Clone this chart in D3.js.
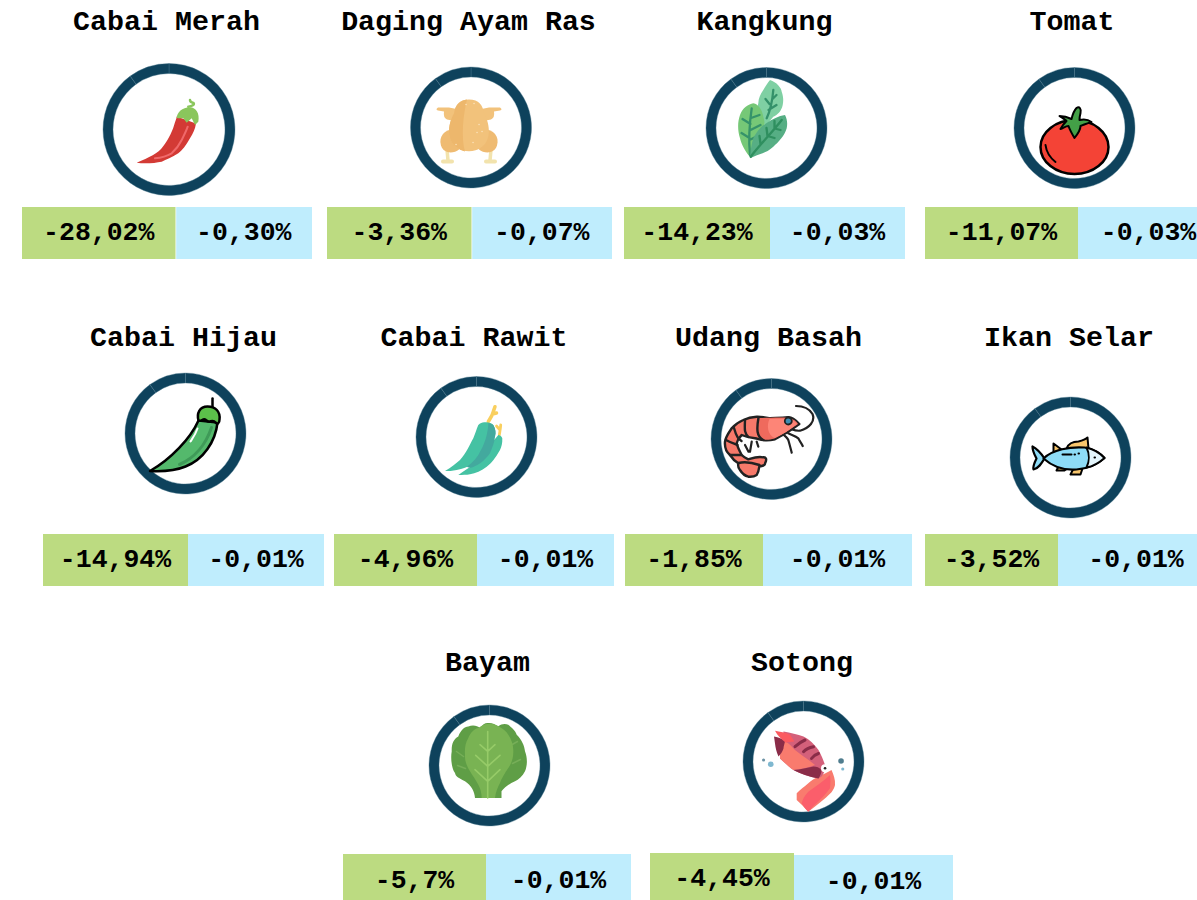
<!DOCTYPE html>
<html>
<head>
<meta charset="utf-8">
<script src="https://cdn.jsdelivr.net/npm/d3@7"></script>
<style>
    html, body { margin: 0; padding: 0; background: #fff; overflow: hidden; }
    svg { display: block; }
</style>
</head>
<body>
<div id="chart-area"></div>
<script>
/*
 *    main.js
 */

const names = ["Cabai Merah", "Daging Ayam Ras", "Kangkung", "Tomat", "Cabai Hijau", "Cabai Rawit", "Udang Basah", "Ikan Selar", "Bayam", "Sotong"];
const priceChange = [-28.02, -3.36, -14.23, -11.07, -14.94, -4.96, -1.85, -3.52, -5.7, -4.45];
const inflationShare = [-0.30, -0.07, -0.03, -0.03, -0.01, -0.01, -0.01, -0.01, -0.01, -0.01];
const ringShares = [90, 10];
const iconKeys = ["redChili", "chicken", "spinachLeaf", "tomato", "greenChili", "rawit", "shrimp", "fish", "bayam", "squid"];

// card placement, separate from the values
// bx: green left, split, blue right (two bars run past the page edge)
const layout = [
    { cx: 169, cy: 129.5, r: 66, tx: 166.5, ty: 30, bx: [22, 175.5, 312], gap: 0.7, by: [207, 259], blueTop: 207, bt: [240, 240] },
    { cx: 471, cy: 127.5, r: 60.5, tx: 468.5, ty: 30, bx: [327, 471.5, 612], gap: 0.7, by: [207, 259], blueTop: 207, bt: [240, 240] },
    { cx: 766.5, cy: 128, r: 60.5, tx: 764.5, ty: 30, bx: [624, 770, 905], gap: 0, by: [207, 259], blueTop: 207, bt: [240, 240] },
    { cx: 1074.5, cy: 128, r: 60.5, tx: 1072, ty: 30, bx: [925, 1078, 1219], gap: 0, by: [207, 259], blueTop: 207, bt: [240, 240] },
    { cx: 185.5, cy: 433.5, r: 60.5, tx: 183.5, ty: 346, bx: [43, 188, 324], gap: 0, by: [534, 586], blueTop: 534, bt: [567, 567] },
    { cx: 476.5, cy: 437, r: 60.5, tx: 474, ty: 346, bx: [334, 477, 614], gap: 0, by: [534, 586], blueTop: 534, bt: [567, 567] },
    { cx: 771.5, cy: 439, r: 60.5, tx: 768.5, ty: 346, bx: [625, 763, 912], gap: 0, by: [534, 586], blueTop: 534, bt: [567, 567] },
    { cx: 1070.5, cy: 457.5, r: 60.5, tx: 1069, ty: 346, bx: [925, 1058, 1214], gap: 0, by: [534, 586], blueTop: 534, bt: [567, 567] },
    { cx: 489.5, cy: 765.5, r: 60.5, tx: 487.5, ty: 671, bx: [343, 486, 631], gap: 0, by: [854, 905], blueTop: 854, bt: [888, 888] },
    { cx: 803.5, cy: 761.5, r: 60.5, tx: 802, ty: 671, bx: [650, 794, 953], gap: 0, by: [853, 905], blueTop: 855, bt: [886, 889] }
];

// icon parts, relative to the ring centre: [path, fill, stroke, stroke width]
const icons = {
    redChili: [
        ["M-32.3,33.2 C-20,28 -10.7,23.8 -6,17 C-2,12 2.7,3.8 5,-4 C6,-8 7.7,-11 7.7,-13 L27,-6 C26,0 24,4 21,8.8 C17,16 13,21 9.3,23.8 C3,28 -3,30 -7.3,32.2 C-14,33.5 -24,34.5 -32.3,33.2Z", "#d33a35"],
        ["M-14,28.8 C-6,28 -1,26 2.7,23.8 C8,19 11,14 12.7,10.5 C15,6 17,2 18.7,-2.8", "none", "#f0696a", 2],
        ["M19.3,-22.8 C23,-23 26,-25 24.5,-26.5 C22,-27 21,-28 21,-29.5", "none", "#8ac65c", 2.5],
        ["M7.7,-11.5 C8,-17 13,-22 21,-22.2 C27,-22 31,-16 29.3,-7.8 L26,-4.5 L22.7,-11.2 L17.7,-6.8 L14.3,-11.2 L9.3,-11.2Z", "#8ac65c"]
    ],
    chicken: [
        ["M-28,34 h9 M15,34 h9", "none", "#f2e3ad", 4],
        ["M-24,22 L-23,33 M20,22 L19,33", "none", "#f2e3ad", 3.5],
        ["M-22,-20 L-33,-20 Q-36,-18 -33,-17 L-27,-16 Q-28,-10 -24,-8 L-14,-6 L-12,-18Z", "#f2c27b"],
        ["M18,-20 L29,-20 Q32,-18 29,-17 L23,-16 Q24,-10 20,-8 L10,-6 L8,-18Z", "#f2c27b"],
        ["M-13,2 C-25,0 -33,8 -30,18 C-27,27 -17,26 -12,22Z", "#efbb72"],
        ["M9,2 C21,0 29,8 26,18 C23,27 13,26 8,22Z", "#efbb72"],
        ["M-2,-28 C-12,-28 -16,-22 -17,-14 C-24,-2 -24,14 -14,20 C-8,25 4,25 10,20 C20,14 20,-2 13,-14 C12,-22 8,-28 -2,-28Z", "#f2c27b"],
        ["M-8,-27 C-14,-24 -16,-20 -17,-14 C-24,-2 -24,14 -14,20 C-12,22 -9,23 -6,24 C-10,10 -8,-12 -4,-28Z", "#edb76c"],
        ["M-5,-23 h.1 M3,-24 h.1 M8,-3 h.1 M11,4 h.1 M6,5 h.1 M-15,17 h.1 M2,15 h.1", "none", "#fbe6c2", 1.3]
    ],
    spinachLeaf: [
        ["M3.5,-48 C10,-46 15,-40 15.2,-36.3 C17,-31 17,-27 16.2,-23 C15,-17 11,-13 6.8,-11.3 L-1,-2 C-7,-13 -10,-19 -8.2,-24.7 C-8,-30 -6,-34 -3.2,-38 C-1,-42 1,-45 3.5,-48Z", "#7fd0a3"],
        ["M6.8,-38 C6,-28 4,-18 .2,-9.7 M6,-29 L10,-33 M3,-24 L-1,-29 M2,-18 L10,-23", "none", "#34916a", 2.3],
        ["M-13.2,-24.7 C-8,-24 -4,-17 -3.2,-11.3 C-1,-4 -2,0 -3.2,3.7 C-6,14 -11,24 -15.8,29.7 C-21,24 -25,17 -26.5,10.3 C-29,2 -29,-6 -26.5,-13 C-24,-20 -18,-24 -13.2,-24.7Z", "#76c877"],
        ["M-14.8,-19.7 C-17,-5 -18,12 -16.5,27 M-15.5,-10 L-7,-13 M-16,-4 L-24,-9 M-16,2 L-6,-3 M-17,10 L-25,5 M-17,12 L-9,8", "none", "#35936a", 2.3],
        ["M18.5,-13 C21,-8 21,-4 20.2,.3 C18,8 12,14 6.8,18.7 C-1,26 -9,26 -16.5,30.3 C-16,23 -15,16 -13.2,10.3 C-9,2 -5,-2 -.2,-4.7 C6,-9 12,-12 18.5,-13Z", "#56ae84"],
        ["M15.2,-8 C6,4 -6,16 -15.8,28.7 M8,.5 L8,-7 M8,.5 L14,2 M1,8 L0,0 M1,8 L8,10 M-6,16 L-7,8", "none", "#2f8f5f", 2.3]
    ],
    tomato: [
        ["M-34,19 A34,27 0 1,1 34,19 A34,27 0 1,1 -34,19Z", "#f44336", "#000", 2.5],
        ["M-29,17 C-28,25 -24,30 -19,34", "none", "#000", 2],
        ["M2,-20 C5,-22 7,-19 6,-15 C5,-11 5,-10 5,-8 C9,-9 13,-9 17,-6 C11,-4 8,-3 6,-2 C6,2 4,5 0,10 C-3,5 -5,1 -6,-2 C-9,-2 -11,0 -14,1 C-12,-3 -10,-5 -8,-7 C-10,-9 -12,-10 -15,-12 C-10,-12 -7,-11 -3,-9 C-2,-13 -1,-17 2,-20Z", "#43a047", "#000", 2]
    ],
    greenChili: [
        ["M-35.5,37.5 C-15,26 5,5 13,-13 L32,-11 C30,8 18,26 0,33 C-12,38 -25,38 -35.5,37.5Z", "#54b96c", "#000", 2.5],
        ["M-6,31 C8,25 20,12 26,-6", "none", "#3f9a58", 3],
        ["M12,-5 C10,1 7,5 5,8", "none", "#fff", 2],
        ["M27,-27 L27,-35", "none", "#000", 2.5],
        ["M13,-13 C11,-20 14,-27 22,-27 C30,-27 35,-22 34,-14 C34,-10 32,-9 30,-11 C27,-15 24,-10 21,-13 C18,-17 16,-11 13,-13Z", "#5cc04a", "#000", 2.5]
    ],
    rawit: [
        ["M11.8,-15.3 C14,-19 16,-22 16.2,-23.7 L18.5,-30.3 M16,-23 L20,-24", "none", "#f9cf5e", 3.5],
        ["M22.8,-2 C23.5,-6 24,-9 24.2,-12 M23.5,-7 L20,-11", "none", "#f9cf5e", 2.8],
        ["M-18.2,38 C-10,32 -6,30 -3.2,28 L21.8,-2 C23,-2 25,-1 25.8,1.3 C26,6 25,10 23.5,13 C19,21 15,26 10.2,29.7 C5,34 -1,36 -6.5,37.3 C-10,38 -14,38 -18.2,38Z", "#45c2a3"],
        ["M-31.5,34 C-25,30 -21,27 -16.5,23 C-10,16 -7,8 -3.2,1.3 C-1,-4 0,-8 1.8,-12 C4,-14 6,-15 8.5,-14.7 C12,-15 15,-14 16.8,-12 C19,-8 19,-5 18.5,-2 C16,8 8,20 -3.2,27 C-9,30 -14,32 -19.8,33 C-24,34 -28,34 -31.5,34Z", "#45c2a3"],
        ["M11.8,-13.7 C14,-13.5 16,-12.5 16.8,-12 C19,-8 20,-4 18.5,-.3 C18,5 16,10 13.5,16.3 C8,24 2,28 -3.2,30 C-5,31 -8,31 -9.8,29.7 C-3,25 1,20 3.5,14.7 C7,9 9,3 10.2,-2 C11,-6 12,-10 11.8,-13.7Z", "#43a99e"]
    ],
    shrimp: [
        ["M24.5,-33 C32,-33 38,-30 41,-25 C44,-18 38,-11 28.5,-8.3 C25,-8 22,-9 20,-9.7 M10.2,-5.7 C14,-3 16,-1 16.8,1 C18,5 19,9 20.2,13.7 M16.8,-5.7 C20,-4 24,-3 26.8,-.7 C28,2 30,4 31.2,7 M-19.8,2.7 L-21.5,12.7 M-14.8,2.7 L-13.2,7.7 M-26.5,6 L-23,12.7", "none", "#222", 2.2],
        ["M27.8,-15 C24,-19 20,-22 16.8,-21.7 C10,-21 4,-21 -1.5,-20.7 C-6,-21.5 -10,-22.5 -14.8,-22.3 C-20,-22 -24,-21 -28.2,-19 C-33,-17 -37,-14 -39.8,-10.7 C-43,-6 -46,-2 -46.5,2.7 C-47,8 -45,13 -41.5,16 C-39,20 -36,22.5 -33.2,24.3 C-34,28 -33,29 -31.5,31 C-29,35 -26,37 -23.2,37.7 C-20,38 -17,37.5 -14.8,36 C-13,33 -12.5,30 -12.2,27.7 C-9,27 -6,26 -6.5,24.3 C-4,20 -6,18 -8.2,18.3 C-14,17 -19,19 -23.2,20.3 C-26,19 -28,18 -29.8,16 C-32,12 -34,8 -34.8,4.3 C-34,1 -32,-2 -29.8,-4 C-25,-2 -21,-1 -16.5,-.7 C-13,0 -11,1 -8.2,1 C-4,1.5 0,1 3.5,.3 C12,-4 20,-9 27.8,-15Z", "#f7796a", "#222", 2.4],
        ["M-13,-21 C-4,-21 10,-22 16.8,-21 C22,-20 25,-18 26.5,-15 C18,-9 10,-4 3,-.5 C-2,1 -5,1 -8,.5 C-15,-2 -15,-10 -13,-21Z", "#ef6a5d"],
        ["M-2,-20 C6,-20 12,-20.5 17,-20 C22,-19 24,-17 25.5,-15 C18,-9 10,-4 3,-1 C-4,-4 -5,-14 -2,-20Z", "#fd8577"],
        ["M-13,-21.5 C-15,-10 -15,-2 -8,1 M-26.5,-19 C-27,-8 -27,-6 -23,-2 M-37.5,-11 C-35,-2 -33,0 -30,2 M-45.5,1 C-40,4 -36,5 -34,6 M-41.5,16 L-30,16 M-33,24 C-25,22 -18,24 -12,26", "none", "#222", 2.4],
        ["M13.3,-18 a3.5,3.5 0 1,1 7,0 a3.5,3.5 0 1,1 -7,0Z", "#3f8db3", "#222", 1.8]
    ],
    fish: [
        ["M-4,-9 C-2,-14 2,-16 8,-16 C12,-17 15,-18 17,-20 L18,-9Z", "#f8c66d", "#000", 2],
        ["M-17,-5 L-17,-14 L-9,-8Z M-12,9 L-14,13 L-6,13 L-3,11Z M3,11 L0,17 L10,17 L12,11Z", "#f8c66d", "#000", 2],
        ["M-26,1 C-30,-5 -34,-9 -38,-11 C-38,-6 -36,-3 -34,1 C-36,5 -38,9 -37,12 C-32,11 -29,6 -26,1Z", "#8edcf7", "#000", 2.2],
        ["M-27,1 C-18,-8 0,-11 14,-10 C22,-9 30,-4 34,.5 C28,6 20,11 6,12 C-6,13 -18,9 -27,1Z", "#8edcf7", "#000", 2.2],
        ["M16,-10 C24,-8 30,-4 34,.5 C29,5 22,9 16,10 C19,4 19,-4 16,-10Z", "#e4f6fd", "#000", 2],
        ["M-8,-3 L1,-3 M4,-3 h.5 M8,-4 h.5 M24,0 h.5", "none", "#000", 2]
    ],
    bayam: [
        ["M-14.5,32.5 C-15,26 -18,20 -24.5,15.8 C-30,13 -34,11 -34.5,7.5 C-38,3 -39,-8 -37.8,-14 C-38,-22 -36,-26 -31.2,-29 C-29,-35 -25,-39 -21.2,-39 C-17,-41 -12,-40 -9.5,-37.5 C-7,-41 -4,-43 -1.2,-42.5 C2,-43 6,-41 8.8,-39.2 C12,-42 16,-42 18.8,-40.8 C22,-38 26,-35 27.2,-30.8 C32,-26 35,-20 35.5,-14.2 C38,-8 38,0 35.5,5.8 C33,11 29,14 25.5,15.8 C20,18 15,22 12,25.8 L12,32.5Z", "#5f9e46"],
        ["M-33,-14 L-26,-9 M-32,0 L-24,3 M28,-24 L21,-20 M31,-6 L23,-2", "none", "#76ae58", 1.5],
        ["M-7.8,32.5 C-8,27 -9,23 -11.2,19.2 C-14,14 -17,10 -19.5,5.8 C-23,0 -25,-5 -24.5,-10.8 C-25,-17 -24,-23 -21.2,-27.5 C-19,-33 -15,-37 -11.2,-37.5 C-8,-40 -4,-42 -1.2,-41.5 C3,-42 6,-41 8.8,-39.2 C13,-37 17,-34 18.8,-30.8 C22,-26 24,-20 23.8,-14.2 C24,-8 22,-2 18.8,2.5 C15,8 12,13 10.5,17.5 C8,22 6,27 5.5,32.5Z", "#79b353"],
        ["M-1.8,-34 L-1.8,32.5 M-1.8,-14.2 L-9.5,-20.8 M-1.8,-14.2 L5.5,-20.8 M-1.8,.8 L-13.8,-10.2 M-1.8,.8 L10.5,-10.2 M-1.8,15.8 L-14.5,4.2 M-1.8,15.8 L10.5,4.2", "none", "#96cb68", 1.6]
    ],
    squid: [
        ["M-40,-1.5 h.1", "none", "#6d93a5", 3],
        ["M-32.8,2.8 h.1", "none", "#7fb8d0", 5.5],
        ["M37.5,-.5 h.1", "none", "#4f7d8e", 5.5],
        ["M39.2,7.5 h.1", "none", "#7fb8d0", 3],
        ["M15,15 C19,13 24,11 28,8.5 C30,13 32,18 31.5,23.5 C31,26 30,28 28,30.8 C21,38 13,44 4.8,50.2 C1,46 -3,42 -6.8,38.5 L-6.8,31.8 C-3,28 1,25 4.8,21.8 C8,19 11,17 15,15Z", "#f97b6e"],
        ["M26.5,13.5 C20,20 12,25 4.8,30.2 C1,34 -1,38 -1.8,41.8 C0,45 2,48 4.8,50.2 C8,47 10,44 13,41.8 C18,37 23,32 26.5,26.8 C27,22 27,18 26.5,13.5Z", "#fb5e6b"],
        ["M-20,-30 C-13,-29 -6,-27 0,-25 C6,-22 11,-17 15,-11.5 C18,-6 20,-1 21.5,3.5 C22,7 21,12 18,15 L15,17 C10,16 6,15 1.5,13.5 C-3,12 -7,10 -10,8.5 C-14,6 -19,1 -23.5,-3Z", "#d4607a"],
        ["M-18.5,-20 C-14,-18 -11,-14 -8.5,-11.5 C-3,-7 5,-2 11.5,3.5 C5,6 -3,8 -10,8.5 C-14,6 -19,1 -23.5,-3 C-24,-9 -22,-15 -18.5,-20Z", "#f97b6e"],
        ["M-29.5,-25 C-25,-24 -21,-23 -18.5,-20.5 C-19,-17 -20,-15 -20,-13 C-21,-10 -23,-7 -25,-5 C-27,-9 -28,-14 -28.5,-18Z", "#8a2c48"],
        ["M-10,8.5 C-3,8 4,6 10,5 C13,5 16,6 18,8.5 C18,11 17,14 15,17 C10,16 6,15 1.5,13.5 C-3,12 -7,10 -10,8.5Z", "#8a2c48"],
        ["M-28.5,-30.8 C-24,-30 -18,-29 -13.3,-26.7 C-12,-24 -10,-22 -9.3,-20 L-18,-19 C-22,-22 -26,-26 -28.5,-30.8Z", "#fb5a60"],
        ["M-8.5,-14.8 C-5,-18 -2,-20 1.5,-21.5 M0,-9.8 C3,-13 6,-14 10,-14.8 M8,-3 C10,-6 12,-7 15,-8", "none", "#8a2c48", 3],
        ["M17.5,6.8 a4,4 0 1,1 8,0 a4,4 0 1,1 -8,0Z", "#fff"],
        ["M21.5,6.8 h.1", "none", "#222", 2.5]
    ]
};

const ringColour = "#0e425c";
const seamColour = "#4d7a8e";
const greenFill = "#bcdb81";
const blueFill = "#bfedfd";
const font = "'Liberation Mono', 'Courier New', monospace";

const fmtChange = (v) => String(v).replace(".", ",") + "%";
const fmtShare = (v) => v.toFixed(2).replace(".", ",") + "%";

const svg = d3.select("#chart-area")
    .append("svg")
    .attr("width", 1197)
    .attr("height", 900);

const pie = d3.pie().sort(null);
const ringSlices = pie(ringShares);

const cards = svg.selectAll("g.card")
    .data(names.map((d, i) => ({
        name: d,
        change: priceChange[i],
        share: inflationShare[i],
        icon: icons[iconKeys[i]],
        pos: layout[i]
    })))
    .enter()
    .append("g")
    .attr("class", "card");

/** Titles */
cards.append("text")
    .attr("x", (d) => d.pos.tx)
    .attr("y", (d) => d.pos.ty)
    .attr("text-anchor", "middle")
    .attr("font-family", font)
    .attr("font-weight", "bold")
    .attr("font-size", "28.3px")
    .style("fill", "black")
    .text((d) => d.name);

/** Rings */
const rings = cards.append("g")
    .attr("transform", (d) => "translate(" + d.pos.cx + ", " + d.pos.cy + ")");

rings.selectAll("path.slice")
    .data((d) => ringSlices.map((s) => ({ slice: s, r: d.pos.r })))
    .enter()
    .append("path")
    .attr("class", "slice")
    .attr("d", (d) => d3.arc().innerRadius(d.r - 10).outerRadius(d.r)(d.slice))
    .attr("fill", ringColour)
    .attr("stroke", seamColour)
    .attr("stroke-width", 0.4);

/** Icons */
rings.selectAll("path.icon")
    .data((d) => d.icon)
    .enter()
    .append("path")
    .attr("class", "icon")
    .attr("d", (d) => d[0])
    .attr("fill", (d) => d[1])
    .attr("stroke", (d) => d[2] || "none")
    .attr("stroke-width", (d) => d[3] || 0)
    .attr("stroke-linecap", "round")
    .attr("stroke-linejoin", "round");

/** Value bars */
cards.append("rect")
    .attr("x", (d) => d.pos.bx[0])
    .attr("y", (d) => d.pos.by[0])
    .attr("width", (d) => d.pos.bx[1] - d.pos.bx[0])
    .attr("height", (d) => d.pos.by[1] - d.pos.by[0])
    .attr("fill", greenFill);

cards.append("rect")
    .attr("x", (d) => d.pos.bx[1] + d.pos.gap)
    .attr("y", (d) => d.pos.blueTop)
    .attr("width", (d) => d.pos.bx[2] - d.pos.bx[1] - d.pos.gap)
    .attr("height", (d) => d.pos.by[1] - d.pos.blueTop)
    .attr("fill", blueFill);

cards.append("text")
    .attr("x", (d) => (d.pos.bx[0] + d.pos.bx[1]) / 2)
    .attr("y", (d) => d.pos.bt[0])
    .attr("text-anchor", "middle")
    .attr("font-family", font)
    .attr("font-weight", "bold")
    .attr("font-size", "26.5px")
    .style("fill", "black")
    .text((d) => fmtChange(d.change));

cards.append("text")
    .attr("x", (d) => (d.pos.bx[1] + d.pos.bx[2]) / 2)
    .attr("y", (d) => d.pos.bt[1])
    .attr("text-anchor", "middle")
    .attr("font-family", font)
    .attr("font-weight", "bold")
    .attr("font-size", "26.5px")
    .style("fill", "black")
    .text((d) => fmtShare(d.share));
</script>
</body>
</html>
